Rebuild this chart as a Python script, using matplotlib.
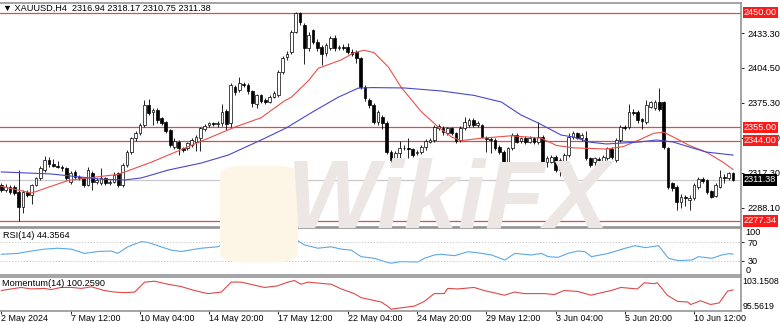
import numpy as np
import matplotlib
matplotlib.use("Agg")
import matplotlib.pyplot as plt
from matplotlib.transforms import blended_transform_factory
from matplotlib.patches import FancyBboxPatch

plt.rcParams["font.family"] = ["Liberation Sans", "DejaVu Sans"]

# XAUUSD H4 candles
opens = [2307.1, 2303.0, 2305.8, 2305.8, 2301.6, 2289.2, 2301.6, 2298.8, 2307.1, 2312.7,
         2319.6, 2327.9, 2324.3, 2323.2, 2322.3, 2321.0, 2309.9, 2318.2, 2314.1, 2312.7,
         2307.1, 2316.8, 2309.9, 2308.5, 2312.7, 2308.5, 2309.9, 2316.8, 2307.1, 2323.7,
         2334.8, 2345.9, 2350.0, 2356.9, 2373.5, 2367.4, 2369.4, 2363.0, 2359.1, 2352.8,
         2338.9, 2343.1, 2337.6, 2337.6, 2340.3, 2343.1, 2345.9, 2353.6, 2356.9, 2358.3,
         2357.5, 2358.3, 2368.5, 2358.3, 2388.7, 2386.0, 2391.0, 2390.1, 2385.1, 2374.1,
         2381.8, 2377.7, 2376.3, 2380.4, 2381.8, 2401.2, 2413.6, 2417.8, 2434.4, 2449.6,
         2439.9, 2420.5, 2435.8, 2426.1, 2421.9, 2416.4, 2420.5, 2428.8, 2420.5, 2421.9,
         2421.9, 2417.8, 2417.8, 2412.2, 2388.7, 2377.7, 2373.5, 2359.7, 2363.8, 2358.3,
         2334.8, 2327.9, 2333.4, 2337.6, 2338.1, 2337.0, 2333.4, 2334.8, 2338.9, 2343.1,
         2344.5, 2354.7, 2354.7, 2350.0, 2354.2, 2350.0, 2344.5, 2354.7, 2356.9, 2361.1,
         2356.9, 2356.9, 2346.4, 2345.3, 2344.5, 2338.9, 2334.8, 2325.1, 2337.6, 2348.6,
         2343.6, 2345.9, 2343.1, 2345.9, 2342.5, 2347.2, 2326.5, 2326.5, 2330.6, 2319.6,
         2326.5, 2332.0, 2347.2, 2350.0, 2345.9, 2346.4, 2329.3, 2326.5, 2328.7, 2327.1,
         2329.3, 2337.0, 2327.9, 2344.5, 2355.5, 2355.5, 2368.0, 2368.0, 2361.6, 2359.7,
         2372.1, 2370.8, 2376.3, 2375.7, 2338.1, 2308.5, 2305.8, 2293.3, 2297.5, 2294.7,
         2296.1, 2305.8, 2312.1, 2311.3, 2302.0, 2298.3, 2305.8, 2314.1, 2312.7, 2316.94]
highs = [2309.0, 2308.0, 2307.0, 2307.0, 2320.0, 2303.0, 2303.0, 2308.0, 2314.0, 2323.0,
         2331.5, 2330.0, 2328.7, 2327.0, 2324.0, 2322.0, 2318.5, 2319.5, 2315.5, 2314.0,
         2322.0, 2319.0, 2313.0, 2321.0, 2314.0, 2311.0, 2318.0, 2318.0, 2325.0, 2336.0,
         2347.0, 2352.0, 2359.0, 2377.7, 2378.2, 2371.0, 2371.0, 2364.0, 2360.0, 2354.0,
         2346.0, 2344.5, 2339.0, 2343.0, 2346.0, 2349.0, 2355.5, 2358.0, 2359.5, 2359.5,
         2360.0, 2374.1, 2370.0, 2391.5, 2390.5, 2397.0, 2393.0, 2392.0, 2386.0, 2383.0,
         2383.0, 2379.0, 2382.0, 2385.0, 2403.0, 2414.0, 2418.0, 2436.0, 2451.0, 2451.0,
         2442.0, 2434.0, 2437.0, 2428.0, 2423.0, 2425.0, 2431.0, 2431.5, 2423.0, 2424.0,
         2425.0, 2420.0, 2419.0, 2413.0, 2390.0, 2379.0, 2375.0, 2369.5, 2365.0, 2360.0,
         2336.0, 2335.0, 2343.6, 2340.0, 2346.4, 2338.0, 2336.0, 2340.0, 2345.0, 2346.0,
         2357.0, 2358.0, 2356.0, 2355.5, 2355.5, 2351.0, 2356.0, 2363.8, 2363.0, 2363.0,
         2360.0, 2358.0, 2348.0, 2347.0, 2346.0, 2340.0, 2336.0, 2339.0, 2350.0, 2350.5,
         2347.0, 2347.5, 2348.0, 2347.0, 2359.1, 2348.5, 2331.0, 2332.0, 2332.0, 2329.5,
         2333.5, 2350.0, 2352.0, 2351.5, 2350.0, 2352.0, 2330.5, 2330.5, 2330.0, 2332.0,
         2339.0, 2338.5, 2346.0, 2357.0, 2357.0, 2374.1, 2370.0, 2369.5, 2363.0, 2377.7,
         2377.0, 2378.0, 2387.3, 2377.0, 2339.0, 2309.5, 2307.0, 2300.0, 2299.0, 2299.0,
         2309.0, 2314.0, 2313.5, 2312.5, 2303.0, 2308.5, 2319.6, 2316.0, 2318.0, 2318.17]
lows = [2301.0, 2301.5, 2300.0, 2299.0, 2277.3, 2283.6, 2297.0, 2291.1, 2306.0, 2311.0,
        2318.0, 2322.0, 2322.0, 2321.0, 2319.0, 2311.0, 2308.0, 2312.5, 2311.0, 2305.8,
        2306.0, 2303.0, 2308.0, 2307.0, 2307.0, 2307.0, 2308.5, 2305.8, 2305.8, 2322.0,
        2333.0, 2344.0, 2349.0, 2355.5, 2365.0, 2357.0, 2359.0, 2357.0, 2350.0, 2339.0,
        2337.0, 2332.0, 2334.8, 2336.0, 2339.0, 2335.6, 2335.6, 2352.0, 2355.5, 2356.0,
        2355.5, 2356.0, 2352.8, 2355.0, 2382.0, 2384.5, 2388.7, 2383.0, 2372.0, 2370.8,
        2375.0, 2374.5, 2375.0, 2379.0, 2380.0, 2399.0, 2411.0, 2416.0, 2433.0, 2440.0,
        2407.3, 2418.0, 2424.0, 2418.0, 2406.7, 2414.0, 2419.0, 2418.0, 2419.0, 2419.5,
        2416.0, 2414.0, 2408.0, 2387.0, 2377.0, 2371.0, 2358.0, 2357.0, 2354.0, 2333.0,
        2326.0, 2326.0, 2325.1, 2336.0, 2329.3, 2330.6, 2332.0, 2333.0, 2336.0, 2342.0,
        2343.0, 2353.0, 2349.0, 2348.6, 2348.6, 2342.0, 2343.0, 2353.0, 2355.0, 2355.0,
        2355.5, 2346.0, 2334.8, 2333.4, 2336.0, 2333.0, 2322.5, 2323.7, 2336.0, 2342.0,
        2342.0, 2341.0, 2342.0, 2341.0, 2341.0, 2325.0, 2322.0, 2325.0, 2318.0, 2314.5,
        2325.0, 2330.6, 2345.0, 2345.0, 2344.0, 2328.0, 2322.0, 2315.4, 2327.0, 2326.0,
        2328.0, 2329.0, 2326.5, 2343.0, 2353.0, 2354.0, 2365.0, 2359.0, 2353.6, 2358.0,
        2370.8, 2369.5, 2368.5, 2337.0, 2304.0, 2302.0, 2286.4, 2288.0, 2290.0, 2286.4,
        2295.0, 2304.0, 2309.0, 2300.0, 2296.0, 2297.0, 2304.5, 2309.0, 2311.0, 2310.75]
closes = [2303.0, 2305.8, 2301.6, 2300.2, 2289.2, 2301.6, 2298.8, 2307.1, 2312.7, 2321.0,
          2327.9, 2324.3, 2323.2, 2322.3, 2321.0, 2312.7, 2316.8, 2314.1, 2312.7, 2307.1,
          2319.6, 2309.9, 2311.3, 2312.7, 2308.5, 2309.9, 2315.4, 2307.1, 2323.7, 2334.8,
          2345.9, 2350.0, 2356.9, 2373.5, 2366.6, 2369.4, 2361.1, 2358.3, 2352.0, 2340.3,
          2343.6, 2337.6, 2336.2, 2341.7, 2344.5, 2347.2, 2354.2, 2356.4, 2358.3, 2357.5,
          2358.3, 2368.0, 2357.5, 2390.1, 2384.0, 2391.5, 2390.1, 2385.1, 2374.9, 2381.8,
          2376.8, 2376.3, 2380.4, 2383.2, 2401.2, 2412.2, 2415.6, 2434.4, 2449.6, 2442.7,
          2420.5, 2431.6, 2426.1, 2420.5, 2415.6, 2423.3, 2428.8, 2420.5, 2421.9, 2421.0,
          2417.8, 2415.6, 2412.2, 2388.7, 2379.0, 2373.5, 2359.7, 2368.0, 2358.3, 2334.8,
          2327.9, 2333.4, 2337.6, 2338.1, 2337.0, 2332.0, 2334.8, 2338.9, 2343.6, 2344.5,
          2355.5, 2356.4, 2350.8, 2354.2, 2350.0, 2343.6, 2354.2, 2359.7, 2361.1, 2356.9,
          2358.3, 2347.2, 2345.3, 2344.5, 2337.6, 2334.8, 2324.3, 2337.6, 2348.6, 2343.1,
          2345.9, 2343.1, 2346.4, 2342.5, 2347.2, 2326.5, 2329.3, 2330.6, 2319.6, 2327.9,
          2332.0, 2347.2, 2350.0, 2346.4, 2348.6, 2329.3, 2323.7, 2329.3, 2327.9, 2330.6,
          2337.6, 2330.6, 2344.5, 2355.5, 2354.2, 2368.0, 2366.6, 2361.1, 2360.2, 2373.5,
          2375.7, 2376.3, 2370.2, 2338.9, 2305.8, 2304.4, 2293.3, 2297.5, 2296.1, 2296.6,
          2307.1, 2312.1, 2310.5, 2301.6, 2297.5, 2307.1, 2314.1, 2312.7, 2316.8, 2311.38]

# moving averages (bar index, price)
ma_red_bars = [0, 7, 15.5, 27, 34.6, 43.2, 53.8, 60, 65.4, 67, 71, 73.2, 78.5, 81.5, 83.8,
               86.1, 89.4, 92.4, 97, 101, 104, 106.2, 110.9, 117.8, 124.7, 128.2, 132.1,
               139.7, 143.6, 147.3, 150.6, 152.9, 155.2, 158.9, 162.8, 166.7, 169]
ma_red_vals = [2306, 2300.5, 2311, 2316, 2326, 2339, 2355, 2363, 2377, 2380, 2394, 2404,
               2411, 2417, 2419, 2417, 2405, 2388, 2368, 2355, 2347, 2344, 2346, 2348,
               2346, 2340, 2338, 2337, 2339, 2344.5, 2350, 2351, 2347, 2340, 2334.5, 2326, 2320]
ma_blue_bars = [0, 11.5, 23.1, 28.4, 32.3, 38.6, 46.2, 52.4, 60, 65.8, 72, 77.8, 82.4, 85.5,
                93, 101.6, 109.2, 115.5, 120, 124, 129.3, 132.1, 135.8, 139.7, 147.3, 151.3,
                155.2, 158.9, 162.8, 169]
ma_blue_vals = [2318, 2316.3, 2312, 2311.3, 2313, 2319.6, 2325.4, 2332, 2344.5, 2354.5,
                2368, 2380, 2387.5, 2388, 2387.7, 2385.2, 2381.5, 2376, 2365.3, 2358.6,
                2348.6, 2347, 2342.8, 2341.2, 2342.8, 2344.5, 2342.8, 2338.7, 2334.5, 2332]

# RSI(14) (bar index, value)
rsi_bars = [0, 3.8, 6.9, 10, 13, 16.2, 19.2, 22.3, 25.4, 26.9, 29.2, 32.3, 33.8, 36.9, 39.2,
            41.5, 46.2, 50, 51.5, 52.7, 53.8, 56.9, 60, 63.1, 65.4, 67.7, 70, 73.1, 76.2,
            78.5, 80.8, 83.1, 86.2, 88.5, 90, 92.3, 96.2, 97.7, 100, 101.6, 104.7, 107.8,
            110.9, 113.2, 116.3, 118.6, 122.4, 124.7, 126.3, 128.6, 130.9, 133.2, 134.8,
            136.3, 140.2, 144, 146.4, 148.7, 151.8, 154.1, 156.4, 159.5, 161, 164.1, 166.4,
            168, 169]
rsi_vals = [44, 46, 51, 55, 57, 55, 46, 50, 51, 46, 60, 71, 69.5, 60, 53, 50, 57, 60, 67,
            58, 67, 65, 55, 60, 71, 78, 64, 57, 60, 55, 53, 39, 35.5, 28.5, 25, 28.4, 27.7,
            35.5, 42.6, 44, 41.1, 49.6, 46, 42.6, 31.9, 46, 42.6, 46, 39, 37.6, 46, 51, 49.6,
            39, 46, 56.7, 62.4, 58.2, 62.4, 35.5, 30.5, 31.9, 39, 35.5, 42.6, 45.4, 44.36]

# Momentum(14) (bar index, value)
mom_bars = [0, 2.3, 4.6, 6.9, 10, 11.5, 13.8, 16.2, 18.5, 20.8, 23.8, 26.2, 28.5, 30.8,
            33.1, 35.4, 38.5, 41.5, 44.6, 47.7, 50.8, 53.1, 55.4, 58.5, 60.8, 63.8, 66.2,
            67.7, 69.2, 70.8, 73.8, 76.2, 78.5, 81.5, 83.1, 85.4, 87.7, 89.2, 90, 95.4, 97.7,
            100, 102.3, 103.1, 105.4, 109.2, 111.5, 113.1, 116.2, 118.5, 120.8, 123.1, 125.4,
            127.7, 130, 133.1, 136.2, 137.7, 140.8, 143.1, 146.9, 148.5, 150.8, 151.5, 153.8,
            156.2, 158.5, 159.2, 161.5, 163.8, 165.8, 167.7, 169]
mom_vals = [100.11, 100.48, 100.83, 100.48, 100.61, 100.33, 100.83, 100.83, 100.61, 100.98,
            100.11, 99.75, 99.62, 99.75, 102.07, 102.28, 101.57, 101.05, 100.11, 99.40,
            99.75, 102.07, 102.07, 101.35, 100.83, 101.2, 102.07, 102.43, 101.57, 102.07,
            101.78, 101.57, 100.48, 99.40, 98.45, 97.95, 97.45, 96.49, 95.78, 96.49, 97.58,
            99.40, 99.40, 100.61, 100.48, 100.83, 100.11, 99.75, 99.03, 99.75, 99.40, 99.40,
            99.40, 99.18, 100.11, 99.90, 99.03, 99.40, 100.11, 100.83, 100.48, 101.92, 101.7,
            101.92, 99.03, 97.58, 97.45, 96.86, 97.73, 96.86, 97.23, 99.96, 100.26]

levels = [2450.00, 2355.00, 2344.00, 2277.34]
last_price = 2311.38
price_ticks = [2433.30, 2404.50, 2375.30, 2346.50, 2317.30, 2288.10]
date_labels = ["2 May 2024", "7 May 12:00", "10 May 04:00", "14 May 20:00", "17 May 12:00",
               "22 May 04:00", "24 May 20:00", "29 May 12:00", "3 Jun 04:00", "5 Jun 20:00",
               "10 Jun 12:00"]

W, H = 780, 322
FS = 6.6
frame = "#8c8c8c"


def box(x0, y0, x1, y1):
    return [x0 / W, 1 - y1 / H, (x1 - x0) / W, (y1 - y0) / H]


fig = plt.figure(figsize=(W / 100, H / 100), dpi=100)
fig.patch.set_facecolor("white")
ax = fig.add_axes(box(0, 3, 741, 227))
ax_rsi = fig.add_axes(box(0, 228, 741, 275), sharex=ax)
ax_mom = fig.add_axes(box(0, 277, 741, 311), sharex=ax)

for a in (ax, ax_rsi, ax_mom):
    a.set_facecolor("none")
    a.spines["left"].set_visible(False)
    for s in ("top", "right", "bottom"):
        a.spines[s].set_color(frame)
        a.spines[s].set_linewidth(1.1)
    a.yaxis.tick_right()
    a.tick_params(axis="y", direction="out", length=2.5, width=0.6, pad=2,
                  labelsize=FS, colors="black")
    a.tick_params(axis="x", direction="out", length=2, width=0.6, pad=0.3,
                  labelsize=FS)

# watermark
fig.patches.append(FancyBboxPatch((0.287, 0.19), 0.09, 0.29,
                                  boxstyle="round,pad=0.005,rounding_size=0.03",
                                  transform=fig.transFigure, facecolor="#fdf6e6",
                                  edgecolor="none", zorder=0))
fig.text(0.575, 0.37, "WikiFX", fontsize=70, fontweight="bold", style="italic",
         color="#ece7e4", ha="center", va="center", zorder=0)

# main price panel
x = np.arange(len(closes))
o = np.array(opens)
c = np.array(closes)
bull = c >= o
body_lo = np.minimum(o, c)
body_h = np.maximum(np.abs(c - o), 0.4)

ax.axhline(last_price, color="#c8c8c8", lw=0.9, zorder=1)
for lv in levels:
    ax.axhline(lv, color="#e04a4a", lw=0.9, zorder=1)

ax.vlines(x, lows, highs, color="black", lw=0.6, zorder=2)
ax.bar(x, body_h, bottom=body_lo, width=0.62,
       color=np.where(bull, "white", "black"), edgecolor="black", linewidth=0.5, zorder=3)

ax.plot(ma_red_bars, ma_red_vals, color="#e8504a", lw=0.8, zorder=4)
ax.plot(ma_blue_bars, ma_blue_vals, color="#4848cc", lw=0.8, zorder=4)

ax.set_xlim(-0.3, -0.3 + 741 / 4.33)
ax.set_ylim(2272.3, 2458.2)
ax.set_yticks(price_ticks)
ax.set_yticklabels([f"{v:.2f}" for v in price_ticks])
plt.setp(ax.get_xticklabels(), visible=False)
ax.tick_params(axis="x", length=0)

ytrans = blended_transform_factory(ax.transAxes, ax.transData)
for lv in levels:
    ax.text(1.004, lv, f"{lv:.2f}", transform=ytrans, fontsize=FS, color="white",
            va="center", ha="left", clip_on=False, zorder=10,
            bbox=dict(boxstyle="square,pad=0.12", fc="#ff1a1a", ec="none"))
ax.text(1.004, last_price, f"{last_price:.2f}", transform=ytrans, fontsize=FS, color="white",
        va="center", ha="left", clip_on=False, zorder=10,
        bbox=dict(boxstyle="square,pad=0.12", fc="black", ec="none"))

fig.text(0.004, 1 - 8 / H, "\u25bc XAUUSD,H4  2316.94 2318.17 2310.75 2311.38",
         fontsize=FS, va="center", ha="left")

# RSI panel
ax_rsi.plot(rsi_bars, rsi_vals, color="#5aa8e6", lw=0.8)
for lv in (70, 30):
    ax_rsi.axhline(lv, color="#c0c0c0", lw=0.6, ls=(0, (1.5, 2)))
ax_rsi.set_ylim(0, 100)
ax_rsi.set_yticks([70, 30])
ax_rsi.set_yticklabels(["70", "30"])
rtrans = blended_transform_factory(ax_rsi.transAxes, ax_rsi.transData)
ax_rsi.text(1.006, 99, "100", transform=rtrans, fontsize=FS, va="top", ha="left")
ax_rsi.text(1.006, 1, "0", transform=rtrans, fontsize=FS, va="bottom", ha="left")
ax_rsi.text(0.004, 0.84, "RSI(14) 44.3564", transform=ax_rsi.transAxes, fontsize=FS,
            va="center", ha="left")
plt.setp(ax_rsi.get_xticklabels(), visible=False)
ax_rsi.tick_params(axis="x", length=0)

# Momentum panel
ax_mom.plot(mom_bars, mom_vals, color="#e04848", lw=0.8)
ax_mom.set_ylim(95.35, 103.26)
ax_mom.set_yticks([])
mtrans = blended_transform_factory(ax_mom.transAxes, ax_mom.transData)
ax_mom.text(1.002, 103.24, "103.1508", transform=mtrans, fontsize=6.3, va="top", ha="left")
ax_mom.text(1.002, 95.40, "95.5619", transform=mtrans, fontsize=6.3, va="bottom", ha="left")
ax_mom.text(0.003, 0.8, "Momentum(14) 100.2590", transform=ax_mom.transAxes, fontsize=FS,
            va="center", ha="left")

date_pos = np.arange(len(date_labels)) * 16
ax_mom.set_xticks(date_pos)
ax_mom.set_xticklabels(date_labels, ha="left", fontsize=6.4)

fig.savefig("out.png", dpi=100)
